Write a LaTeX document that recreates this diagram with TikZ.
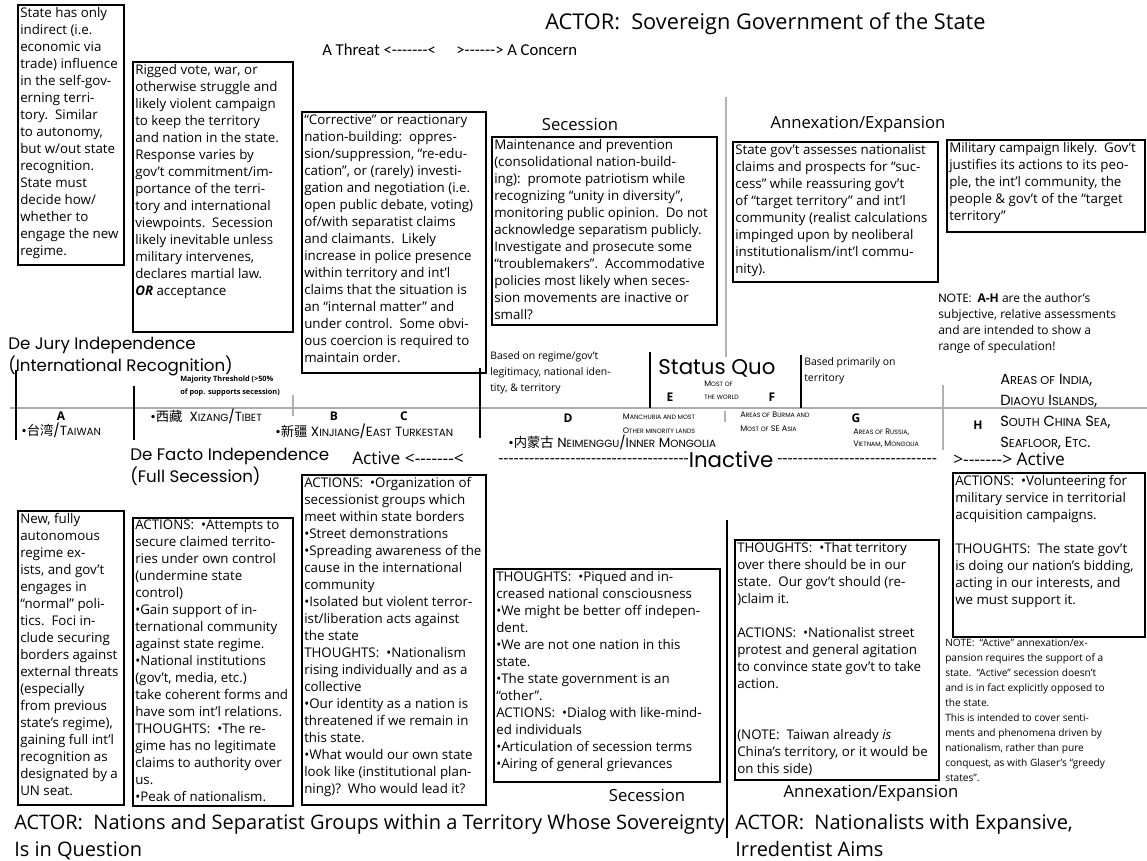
\documentclass[tikz,border=0pt]{standalone}
\usepackage{fontspec}
\setmainfont{Open Sans}
\newfontfamily\thinf{Poppins}
\newfontfamily\cndf{Carlito}
\newfontfamily\cjk{Noto Sans CJK SC}
\newcommand{\boxf}{\fontsize{10}{12.75}\selectfont}
\newcommand{\lo}[1]{\scalebox{0.78}{#1}}
\newcommand{\dashes}[1]{\foreach \n in {1,...,#1}{-}}

\begin{document}
\begin{tikzpicture}[x=0.75pt, y=-0.75pt,
frame/.style = {draw, line width=0.9pt},
txt/.style = {anchor=north west, align=left, inner sep=1.5pt, font=\boxf},
head/.style = {inner sep=0pt, align=left, font=\fontsize{15}{20}\selectfont},
side/.style = {inner sep=0pt, font=\fontsize{12.5}{15}\selectfont},
fancy/.style = {inner sep=0pt, align=left, font=\thinf\fontsize{12.5}{16.5}\selectfont},
caps/.style = {inner sep=0pt, align=left, font=\thinf\fontsize{10}{12}\selectfont},
tinycaps/.style = {inner sep=0pt, align=left, font=\thinf\fontsize{6}{10.5}\selectfont},
small/.style = {anchor=north west, inner sep=0pt, align=left, font=\fontsize{7.8}{12}\selectfont},
tag/.style = {inner sep=0pt, font=\bfseries\fontsize{9}{10}\selectfont},
scale line/.style = {draw=gray!65, line width=2.2pt},
gline/.style = {draw=gray!60, line width=1.1pt},
bline/.style = {line width=1pt}
]
\useasboundingbox (0,0) rectangle (1147,861);

% state government side
\node[head, anchor=base west, font=\fontsize{16.3}{20}\selectfont] (stateActor) at (545,29) {ACTOR:\ \ Sovereign Government of the State};
\node[anchor=west, inner sep=0pt, font=\cndf\fontsize{12.5}{14}\selectfont] (threat) at (322,50)
  {A Threat <\dashes{7}<\quad\ >\dashes{6}> A Concern};
\node[side] (secTop) at (580,124) {Secession};
\node[side] (annTop) at (858,124) {Annexation/Expansion};
\draw[gline] (726,97) -- (726,357);

\draw[frame] (18,5) rectangle (124,265);
\node[txt] (govA) at (18,5) {State has only\\ indirect (i.e.\\ economic via\\ trade) influence\\ in the self-gov-\\ erning terri-\\ tory.\ \ Similar\\ to autonomy,\\ but w/out state\\ recognition.\\ State must\\ decide how/\\ whether to\\ engage the new\\ regime.};

\draw[frame] (133,62) rectangle (293,332);
\node[txt] (govB) at (133,62) {Rigged vote, war, or\\ otherwise struggle and\\ likely violent campaign\\ to keep the territory\\ and nation in the state.\\ Response varies by\\ gov’t commitment/im-\\ portance of the terri-\\ tory and international\\ viewpoints.\ \ Secession\\ likely inevitable unless\\ military intervenes,\\ declares martial law.\\ \textbf{\textit{OR}} acceptance};

\draw[frame] (302,112) rectangle (486,373);
\node[txt] (govC) at (302,112) {“Corrective” or reactionary\\ nation-building:\ \ oppres-\\ sion/suppression, “re-edu-\\ cation”, or (rarely) investi-\\ gation and negotiation (i.e.\\ open public debate, voting)\\ of/with separatist claims\\ and claimants.\ \ Likely\\ increase in police presence\\ within territory and int’l\\ claims that the situation is\\ an “internal matter” and\\ under control.\ \ Some obvi-\\ ous coercion is required to\\ maintain order.};

\draw[frame] (492,137) rectangle (717,325);
\node[txt] (govD) at (492,137) {Maintenance and prevention\\ (consolidational nation-build-\\ ing):\ \ promote patriotism while\\ recognizing “unity in diversity”,\\ monitoring public opinion.\ \ Do not\\ acknowledge separatism publicly.\\ Investigate and prosecute some\\ “troublemakers”.\ \ Accommodative\\ policies most likely when seces-\\ sion movements are inactive or\\ small?};

\draw[frame] (733,142) rectangle (938,282);
\node[txt] (govE) at (733,142) {State gov’t assesses nationalist\\ claims and prospects for “suc-\\ cess” while reassuring gov’t\\ of “target territory” and int’l\\ community (realist calculations\\ impinged upon by neoliberal\\ institutionalism/int’l commu-\\ nity).};

\draw[frame] (947,140) rectangle (1145,232);
\node[txt] (govF) at (947,140) {Military campaign likely.\ \ Gov’t\\ justifies its actions to its peo-\\ ple, the int’l community, the\\ people \& gov’t of the “target\\ territory”};

\node[anchor=north west, inner sep=0pt, align=left, font=\fontsize{9}{12}\selectfont] (noteAH) at (938,293)
  {{\thinf NOTE:}\ \ \textbf{A-H} are the author’s\\ subjective, relative assessments\\ and are intended to show a\\ range of speculation!};

% the scale
\node[fancy, anchor=north west] (deJury) at (8,337) {De Jury Independence\\ (International Recognition)};
\node[anchor=north west, inner sep=0pt, align=left, font=\bfseries\fontsize{5.5}{9.75}\selectfont] (threshold) at (180,376)
  {Majority Threshold (>50\%\\ of pop. supports secession)};
\node[small] (basedOn) at (490,351) {Based on regime/gov’t\\ legitimacy, national iden-\\ tity, \& territory};
\node[fancy, font=\thinf\fontsize{16}{18}\selectfont] (statusQuo) at (717,368) {Status Quo};
\node[small] (basedTerr) at (804,357) {Based primarily on\\ territory};
\node[caps, anchor=north west, font=\thinf\fontsize{11}{15.75}\selectfont] (areasIndia) at (1000,374)
  {A\lo{REAS OF} I\lo{NDIA},\\ D\lo{IAOYU} I\lo{SLANDS},\\ S\lo{OUTH} C\lo{HINA} S\lo{EA},\\ S\lo{EAFLOOR}, E\lo{TC}.};

\draw[scale line] (10,408) -- (1147,408);
\draw[bline] (16,370) -- (16,440);
\draw[bline] (134,386) -- (134,440);
\draw[bline] (480,368) -- (480,438);
\draw[bline] (650,352) -- (650,408);
\draw[bline] (801,355) -- (801,408);
\draw[gline] (293,395) -- (293,416);
\draw[gline] (725,411) -- (725,422);
\draw[gline] (943,385) -- (943,450);

\node[tag] (A) at (61,416) {A};
\node[tag] (B) at (334,416) {B};
\node[tag] (C) at (404,416) {C};
\node[tag] (D) at (568,418) {D};
\node[tag] (E) at (670,397) {E};
\node[tag] (F) at (772,397) {F};
\node[tag] (G) at (856,418) {G};
\node[tag] (H) at (978,425) {H};

\node[caps, anchor=west] (taiwan) at (21,430) {•{\cjk 台湾}/T\lo{AIWAN}};
\node[caps, anchor=west] (tibet) at (150,416) {•{\cjk 西藏}\ \ X\lo{IZANG}/T\lo{IBET}};
\node[caps, anchor=west] (xinjiang) at (275,431) {•{\cjk 新疆} X\lo{INJIANG}/E\lo{AST} T\lo{URKESTAN}};
\node[caps, anchor=west] (neimenggu) at (508,442) {•{\cjk 内蒙古} N\lo{EIMENGGU}/I\lo{NNER} M\lo{ONGOLIA}};
\node[tinycaps, align=center] (manchuria) at (659,424) {M\lo{ANCHURIA AND MOST}\\ O\lo{THER MINORITY LANDS}};
\node[tinycaps, anchor=north west, font=\thinf\fontsize{6}{9.75}\selectfont] (mostWorld) at (704,381) {M\lo{OST OF}\\ \lo{THE WORLD}};
\node[tinycaps, anchor=north west] (burma) at (740,412) {A\lo{REAS OF} B\lo{URMA AND}\\ M\lo{OST OF} SE A\lo{SIA}};
\node[tinycaps, anchor=north west, font=\thinf\fontsize{6}{8.5}\selectfont] (russia) at (853,429) {A\lo{REAS OF} R\lo{USSIA},\\ V\lo{IETNAM}, M\lo{ONGOLIA}};

\node[fancy, anchor=north west] (deFacto) at (130,448) {De Facto Independence\\ (Full Secession)};
\node[anchor=west, inner sep=0pt, font=\fontsize{13}{15}\selectfont] (activeL) at (352,458) {Active <\dashes{7}<};
\node[anchor=west, inner sep=0pt, font=\fontsize{12}{13}\selectfont] (dashL) at (498,461) {\dashes{37}};
\node[inner sep=0pt, font=\thinf\fontsize{16}{18}\selectfont] (inactive) at (731,459) {Inactive};
\node[anchor=west, inner sep=0pt, font=\fontsize{12}{13}\selectfont] (dashR) at (777,461) {\dashes{31}};
\node[anchor=west, inner sep=0pt, font=\fontsize{13}{15}\selectfont] (activeR) at (953,459) {>\dashes{7}> Active};

% separatist side
\draw[frame] (18,511) rectangle (124,805);
\node[txt] (natA) at (18,511) {New, fully\\ autonomous\\ regime ex-\\ ists, and gov’t\\ engages in\\ “normal” poli-\\ tics.\ \ Foci in-\\ clude securing\\ borders against\\ external threats\\ (especially\\ from previous\\ state’s regime),\\ gaining full int’l\\ recognition as\\ designated by a\\ UN seat.};

\draw[frame] (133,518) rectangle (293,806);
\node[txt] (natB) at (133,518) {ACTIONS:\ \ •Attempts to\\ secure claimed territo-\\ ries under own control\\ (undermine state\\ control)\\ •Gain support of in-\\ ternational community\\ against state regime.\\ •National institutions\\ (gov’t, media, etc.)\\ take coherent forms and\\ have som int’l relations.\\ THOUGHTS:\ \ •The re-\\ gime has no legitimate\\ claims to authority over\\ us.\\ •Peak of nationalism.};

\draw[frame] (302,475) rectangle (486,805);
\node[txt] (natC) at (302,475) {ACTIONS:\ \ •Organization of\\ secessionist groups which\\ meet within state borders\\ •Street demonstrations\\ •Spreading awareness of the\\ cause in the international\\ community\\ •Isolated but violent terror-\\ ist/liberation acts against\\ the state\\ THOUGHTS:\ \ •Nationalism\\ rising individually and as a\\ collective\\ •Our identity as a nation is\\ threatened if we remain in\\ this state.\\ •What would our own state\\ look like (institutional plan-\\ ning)?\ \ Who would lead it?};

\draw[frame] (494,569) rectangle (720,782);
\node[txt] (natD) at (494,569) {THOUGHTS:\ \ •Piqued and in-\\ creased national consciousness\\ •We might be better off indepen-\\ dent.\\ •We are not one nation in this\\ state.\\ •The state government is an\\ “other”.\\ ACTIONS:\ \ •Dialog with like-mind-\\ ed individuals\\ •Articulation of secession terms\\ •Airing of general grievances};

\node[side] (secBot) at (647,795) {Secession};
\node[head, anchor=north west] (natActor) at (14,814) {ACTOR:\ \ Nations and Separatist Groups within a Territory Whose Sovereignty\\ Is in Question};

% irredentist side
\draw[bline] (727,520) -- (727,838);

\draw[frame] (735,540) rectangle (939,780);
\node[txt] (irrA) at (735,540) {THOUGHTS:\ \ •That territory\\ over there should be in our\\ state.\ \ Our gov’t should (re-\\ )claim it.\\ \strut\\ ACTIONS:\ \ •Nationalist street\\ protest and general agitation\\ to convince state gov’t to take\\ action.\\ \strut\\ \strut\\ (NOTE:\ \ Taiwan already \textit{is}\\ China’s territory, or it would be\\ on this side)};

\draw[frame] (953,473) rectangle (1145,637);
\node[txt] (irrB) at (953,473) {ACTIONS:\ \ •Volunteering for\\ military service in territorial\\ acquisition campaigns.\\ \strut\\ THOUGHTS:\ \ The state gov’t\\ is doing our nation’s bidding,\\ acting in our interests, and\\ we must support it.};

\node[anchor=north west, inner sep=0pt, align=left, font=\fontsize{7.6}{11.25}\selectfont] (irrNote) at (945,639)
  {NOTE:\ \ “Active” annexation/ex-\\ pansion requires the support of a\\ state.\ \ “Active” secession doesn’t\\ and is in fact explicitly opposed to\\ the state.\\ This is intended to cover senti-\\ ments and phenomena driven by\\ nationalism, rather than pure\\ conquest, as with Glaser’s “greedy\\ states”.};

\node[side] (annBot) at (871,793) {Annexation/Expansion};
\node[head, anchor=north west] (irrActor) at (735,814) {ACTOR:\ \ Nationalists with Expansive,\\ Irredentist Aims};

\end{tikzpicture}
\end{document}
